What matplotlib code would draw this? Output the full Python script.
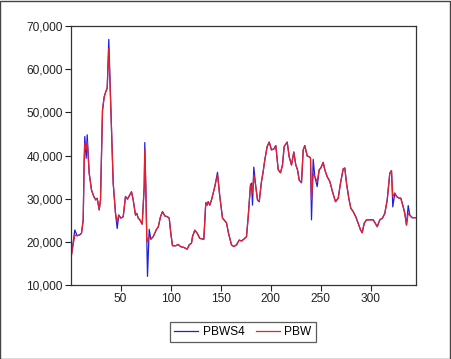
import matplotlib
matplotlib.use("Agg")
import matplotlib.pyplot as plt
from matplotlib.patches import Rectangle
from matplotlib.ticker import FuncFormatter, FixedLocator

obs = [1, 4.3, 6.7, 9, 11, 12.7, 13.7, 14.3, 15.7, 16.7, 18.7, 21, 23.3, 25.3, 26.7, 28.7, 30,
       32, 33.7, 35.3, 36.7, 38.3, 40.3, 42.7, 45, 46.7, 48.3, 50.3, 52.7, 55, 57, 59.3, 61,
       62.7, 65, 66.3, 67.7, 69.3, 71.7, 73.7, 74.3, 75.3, 76.3, 77, 78.7, 80.3, 82.7, 84.3,
       86, 87.7, 90, 92, 94.3, 97, 98.7, 100.3, 102, 105.3, 107.7, 110, 113.3, 116.7, 118.7,
       121, 122, 124.3, 126.7, 129.3, 133.3, 135.3, 136.7, 137.7, 139.3, 141, 144.3, 147,
       149.3, 152, 156, 158, 161, 163.3, 166, 168.7, 171, 173.7, 176, 177.7, 180, 181, 182,
       183.3, 185.3, 187, 188.7, 191, 192.7, 194.3, 196.7, 198.7, 201, 203.3, 205.3, 207.7,
       210, 212, 213.7, 216.7, 218.7, 221, 223.3, 225.3, 227, 228.7, 231, 232.7, 234.3,
       236.7, 238.7, 240, 241, 242.7, 244.3, 246.7, 248.7, 250.3, 252.7, 254.3, 256.7,
       259.3, 262, 265, 267.7, 270, 272.7, 274.3, 276, 278.3, 280.3, 282.7, 285.3, 287.7,
       290, 291.7, 293.7, 296, 299.3, 302.7, 304.3, 306.7, 309.3, 312, 314.3, 316.7, 319.3,
       321, 322.3, 324.3, 326, 328.7, 330.3, 332.7, 334.3, 336, 337.7, 339.3, 341.7, 345]

pbw = [17000, 21600, 21400, 21600, 22000, 25100, 39000, 42800, 41300, 43200, 35900, 32000,
       30500, 29700, 30100, 27400, 29700, 50500, 53600, 54800, 55600, 64800, 51300, 33600,
       26600, 24700, 26200, 25500, 25800, 30500, 29900, 30900, 31600, 29700, 26200, 26600,
       25500, 25100, 24100, 32800, 41300, 32800, 20000, 20400, 21200, 20600, 21200, 22000,
       22900, 23400, 25800, 27000, 26000, 25800, 25500, 22000, 19100, 19100, 19400, 18900,
       18700, 18300, 19300, 19700, 21200, 22700, 22000, 20800, 20600, 29100, 28500, 29300,
       28500, 29700, 32800, 35500, 30500, 25500, 24400, 22000, 19300, 18900, 19300, 20400,
       20200, 20700, 21200, 25800, 33200, 32900, 31300, 35500, 32800, 29700, 29300, 34000,
       36300, 39000, 42100, 43100, 41300, 41500, 42300, 36700, 36000, 37800, 42100, 43100,
       39700, 37800, 40800, 37800, 36700, 34300, 33700, 41300, 42300, 39900, 39700, 39400,
       29700, 35900, 35100, 34000, 36700, 37100, 38400, 36700, 35100, 34000, 31600, 29300,
       30100, 33600, 36900, 37100, 33600, 30100, 27800, 27000, 25800, 24300, 22800, 22100,
       24300, 25100, 25100, 25100, 24500, 23500, 25100, 25500, 26600, 29700, 35900, 36500,
       30500, 31300, 30500, 30100, 30100, 28100, 26600, 23900, 26600, 26200, 25600, 25600]

pbws4 = [17000, 22750, 21400, 21600, 22000, 25100, 39000, 44400, 39350, 44800, 35900, 32000,
         30500, 29700, 30100, 27400, 29700, 50500, 53600, 54800, 55600, 66900, 51300, 33600,
         26600, 23100, 26200, 25500, 25800, 30500, 29900, 30900, 31600, 29700, 26200, 26600,
         25500, 25100, 24100, 32800, 43000, 32800, 20000, 12000, 22900, 20600, 21200, 22000,
         22900, 23400, 25800, 27000, 26000, 25800, 25500, 22000, 19100, 19100, 19400, 18900,
         18700, 18300, 19300, 19700, 21200, 22700, 22000, 20800, 20600, 29100, 28500, 29300,
         28500, 29700, 32800, 36100, 30500, 25500, 24400, 22000, 19300, 18900, 19300, 20400,
         20200, 20700, 21200, 25800, 33200, 33600, 28500, 37300, 32800, 29700, 29300, 34000,
         36300, 39000, 42100, 43100, 41300, 41500, 42300, 36700, 36000, 37800, 42100, 43100,
         39700, 37800, 40800, 37800, 36700, 34300, 33700, 41300, 42300, 39900, 39700, 39400,
         25100, 39100, 35100, 32800, 36700, 37100, 38400, 36700, 35100, 34000, 31600, 29300,
         30100, 33600, 36900, 37100, 33600, 30100, 27800, 27000, 25800, 24300, 22800, 22100,
         24300, 25100, 25100, 25100, 24500, 23500, 25100, 25500, 26600, 29700, 35900, 36500,
         28100, 31300, 30500, 30100, 30100, 28100, 26600, 23900, 28400, 26200, 25600, 25600]

xticks = [50, 100, 150, 200, 250, 300]
yticks = [10000, 20000, 30000, 40000, 50000, 60000, 70000]

plt.rcParams['font.family'] = ['Liberation Sans', 'DejaVu Sans']

fig = plt.figure(figsize=(4.51, 3.59), dpi=100)
fig.patches.append(Rectangle((0.001, 0.001), 0.997, 0.997, transform=fig.transFigure,
                             fill=False, edgecolor='#444444', linewidth=1.0))
ax = fig.add_axes([71/451, 1-285/359, 345/451, 259/359])
ax.plot(obs, pbws4, color='#1f1fe0', linewidth=0.9, label='PBWS4')
ax.plot(obs, pbw, color='#e8202a', linewidth=0.9, label='PBW')
ax.set_xlim(0.5, 345.5)
ax.set_ylim(10000, 70000)
ax.xaxis.set_major_locator(FixedLocator(xticks))
ax.yaxis.set_major_locator(FixedLocator(yticks))
ax.yaxis.set_major_formatter(FuncFormatter(lambda v, p: f"{int(v):,}"))
ax.tick_params(direction='out', length=4, width=0.8, labelsize=8.6, colors='#222222',
               top=False, right=False, pad=2)
for s in ax.spines.values():
    s.set_linewidth(0.9)
    s.set_color('#333333')

leg = fig.legend(loc='center', bbox_to_anchor=(243/451, 1-332/359), ncol=2, fontsize=8.6,
                 frameon=True, fancybox=False, edgecolor='#333333', handlelength=2.0,
                 columnspacing=0.9, handletextpad=0.4, borderpad=0.35, borderaxespad=0)
leg.get_frame().set_linewidth(0.9)
for t in leg.get_texts():
    t.set_text(' '.join(list(t.get_text())).replace(' ', '\u2009') if False else t.get_text())
fig.savefig('out.png', dpi=100)
